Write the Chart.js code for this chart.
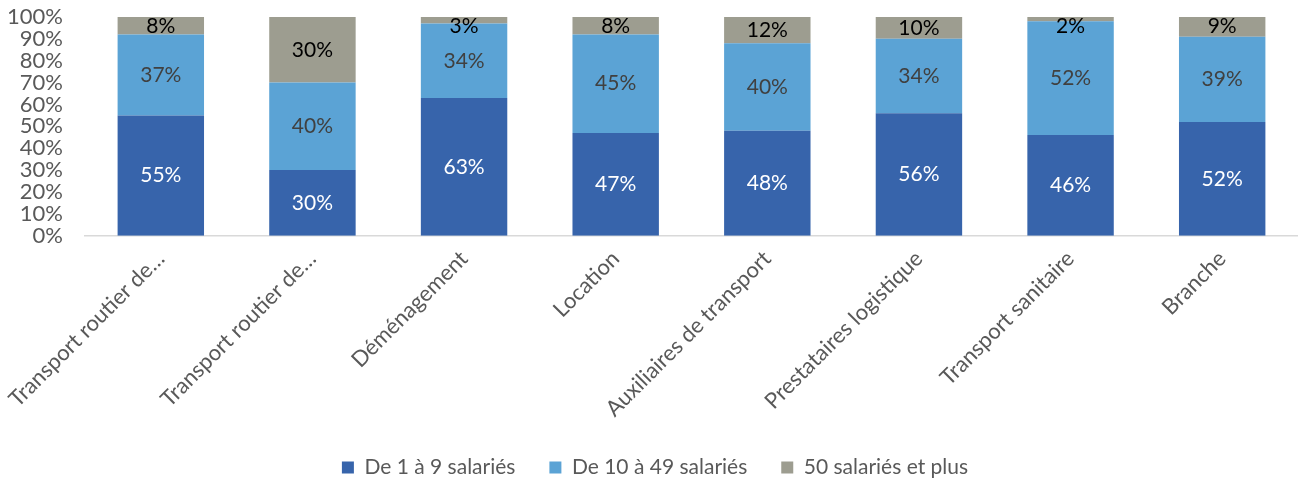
<!DOCTYPE html>
<html>
<head>
<meta charset="utf-8">
<script src="https://cdn.jsdelivr.net/npm/chart.js@4.4.0/dist/chart.umd.min.js"></script>
<style>
    html, body { margin: 0; padding: 0; background: #fff; }
    #wrap { width: 1298px; height: 483px; position: relative; }
</style>
</head>
<body>
<div id="wrap"><canvas id="chart"></canvas></div>
<script>
// Catégories et valeurs (en %)
var categories = ['Transport routier de…', 'Transport routier de…', 'Déménagement', 'Location',
    'Auxiliaires de transport', 'Prestataires logistique', 'Transport sanitaire', 'Branche'];
var petites = [55, 30, 63, 47, 48, 56, 46, 52];
var moyennes = [37, 40, 34, 45, 40, 34, 52, 39];
var grandes = [8, 30, 3, 8, 12, 10, 2, 9];
var seriesNames = ['De 1 à 9 salariés', 'De 10 à 49 salariés', '50 salariés et plus'];
var yTicks = [0, 10, 20, 30, 40, 50, 60, 70, 80, 90, 100];

var FONT = "Lato, 'Open Sans', sans-serif";

// Plugin maison pour écrire les pourcentages dans les barres
var labelColors = ['#ffffff', '#404040', '#000000'];
var barLabels = {
    id: 'barLabels',
    afterDatasetsDraw: function(chart) {
        var ctx = chart.ctx;
        ctx.save();
        ctx.font = '21px ' + FONT;
        ctx.textAlign = 'center';
        ctx.textBaseline = 'middle';
        chart.data.datasets.forEach(function(ds, i) {
            var meta = chart.getDatasetMeta(i);
            meta.data.forEach(function(bar, j) {
                var mid = (bar.y + bar.base) / 2;
                if (i === 2 && Math.abs(bar.base - bar.y) < 20) mid = bar.y + 9;
                ctx.fillStyle = labelColors[i];
                ctx.fillText(ds.data[j] + '%', bar.x, mid);
            });
        });
        ctx.restore();
    }
};

var ctx = document.getElementById('chart').getContext('2d');
var chart = new Chart(ctx, {
    type: 'bar',
    data: {
        labels: categories,
        datasets: [
            { label: seriesNames[0], data: petites, backgroundColor: '#3764ab' },
            { label: seriesNames[1], data: moyennes, backgroundColor: '#5ba3d5' },
            { label: seriesNames[2], data: grandes, backgroundColor: '#9d9d90' }
        ]
    },
    options: {
        responsive: true,
        maintainAspectRatio: false,
        animation: false,
        layout: { padding: { left: 9, right: -3, top: 0, bottom: -5 } },
        datasets: { bar: { categoryPercentage: 0.57, barPercentage: 1.0 } },
        plugins: {
            legend: {
                position: 'bottom',
                labels: {
                    font: { family: FONT, size: 21 },
                    color: '#595959',
                    boxWidth: 12,
                    boxHeight: 12,
                    padding: 34
                }
            },
            tooltip: { enabled: false }
        },
        scales: {
            x: {
                stacked: true,
                grid: { display: false, drawTicks: false },
                border: { color: '#d9d9d9', width: 1.5 },
                ticks: {
                    color: '#595959',
                    font: { family: FONT, size: 22 },
                    minRotation: 45,
                    maxRotation: 45,
                    autoSkip: false,
                    padding: 10
                },
                afterFit: function(axis) {
                    axis.paddingLeft = 0;
                    axis.paddingRight = 0;
                    axis.height -= 9;
                }
            },
            y: {
                stacked: true,
                min: 0,
                max: 100,
                afterBuildTicks: function(axis) {
                    axis.ticks = yTicks.map(function(v) { return { value: v }; });
                },
                afterFit: function(axis) {
                    axis.width = 76;
                    axis.paddingTop = 17;
                    axis.paddingBottom = 0;
                },
                grid: { display: false, drawTicks: false },
                border: { display: false },
                ticks: {
                    color: '#595959',
                    font: { family: FONT, size: 22 },
                    autoSkip: false,
                    padding: 22,
                    callback: function(v) { return v + '%'; }
                }
            }
        }
    },
    plugins: [barLabels]
});
</script>
</body>
</html>
